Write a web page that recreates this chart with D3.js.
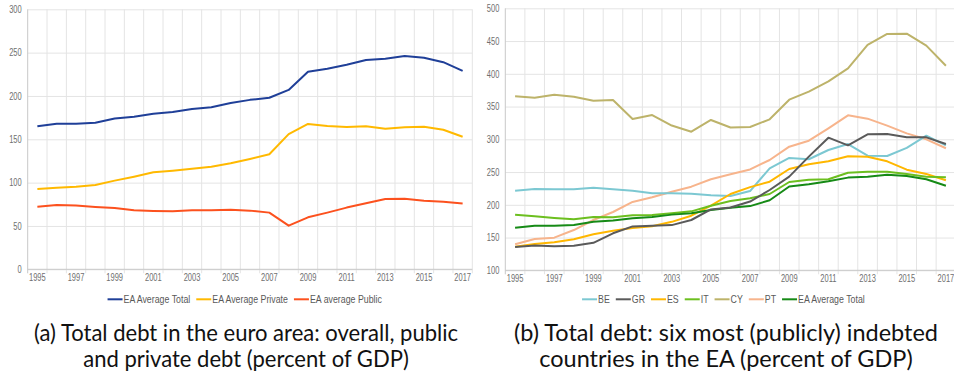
<!DOCTYPE html>
<html>
<head>
<meta charset="utf-8">
<script src="https://cdn.jsdelivr.net/npm/d3@7"></script>
<style>
  html, body { margin: 0; padding: 0; background: #fff; }
  svg { display: block; }
  .tick text { font-family: "Liberation Sans", Arial, sans-serif; font-size: 10px; fill: #6f6f6f; }
  .legend text { font-family: "Liberation Sans", Arial, sans-serif; font-size: 11px; fill: #595959; }
  .caption { font-family: Lato, "DejaVu Sans", sans-serif; font-size: 23px; fill: #111; }
</style>
</head>
<body>
<svg id="chart" width="954" height="372"></svg>
<script>
// Years on the category axis
const years = d3.range(1995, 2018);
const yearLabels = years.filter((y, i) => i % 2 === 0);

// Panel (a): euro-area averages, percent of GDP
const eaTotal   = [165, 168, 168, 169, 174, 176, 179.5, 181.5, 185, 187, 192, 195.5, 198, 207, 228, 231.5, 236, 241.5, 243, 246, 244, 239, 229];
const eaPrivate = [92.7, 94.2, 95.3, 97.3, 102.3, 106.9, 111.9, 113.8, 116.1, 118.4, 122.3, 127.3, 132.7, 156, 167.7, 165.3, 164.2, 165, 162.3, 164, 164.5, 161, 153];
const eaPublic  = [72.3, 74.2, 73.5, 72, 70.8, 68, 67.3, 67, 68, 68, 68.8, 67.7, 65.4, 50.4, 60, 65.4, 71.2, 76.2, 81.2, 81.5, 79.2, 78, 75.8];
const ticksA = [0, 50, 100, 150, 200, 250, 300];

// Panel (b): the six most indebted countries, percent of GDP
const BE = [221.5, 224, 223.6, 223.6, 226, 223.6, 221.5, 217.5, 217.7, 217, 214.5, 213.4, 221, 255.7, 271.5, 269.5, 283.7, 292.8, 275, 274.5, 287, 305.5, 290.8];
const GR = [135.6, 138, 136.6, 137.6, 142, 156.5, 167, 168, 169, 176.8, 193, 196, 205, 222.6, 243, 273.5, 302.5, 290.8, 307.6, 308, 303, 303, 292.8];
const ES = [136, 140, 142.7, 147.3, 155, 160.5, 164.6, 167.2, 174, 183.4, 198.6, 216.5, 227, 235.3, 254.7, 261.8, 266.4, 274, 273.5, 266.4, 253.6, 247, 237.4];
const IT = [184.9, 182.4, 179.8, 177.8, 181.4, 180.9, 184, 184.4, 187, 190, 198.6, 205.8, 209.9, 216.5, 234.8, 238.3, 239, 249, 250.5, 250.5, 247, 243, 242];
const CY = [365.6, 363.5, 368, 365, 359, 360, 331, 337, 321, 311.6, 329.5, 318, 318.8, 330.5, 360.5, 372.7, 388.5, 408.4, 444, 460.8, 461.3, 443, 412.4];
const PT = [139.7, 147.8, 149.8, 161.5, 176.8, 189, 204.3, 211.4, 220, 227.7, 239, 246.5, 254, 268.4, 288.7, 297.9, 316.8, 336.6, 331.5, 320.8, 309, 300, 286.3];
const ticksB = [100, 150, 200, 250, 300, 350, 400, 450, 500];

const svg = d3.select("#chart");

// narrow text horizontally by factor k; returns the last resulting width
function condense(sel, k) {
  let out = 0;
  sel.each(function () {
    const w = this.getComputedTextLength() * k;
    d3.select(this).attr("textLength", w).attr("lengthAdjust", "spacingAndGlyphs");
    out = w;
  });
  return out;
}

function panel(opts) {
  const g = svg.append("g");
  const x = d3.scaleBand().domain(years).range([opts.x0, opts.x1]).padding(0);
  const y = d3.scaleLinear().domain(opts.domain).range([opts.yBottom, opts.yTop]);
  const bw = x.bandwidth();

  // horizontal gridlines
  g.append("g")
    .attr("transform", `translate(${opts.x0},0)`)
    .call(d3.axisLeft(y).tickValues(opts.ticks).tickSize(-(opts.x1 - opts.x0)).tickFormat(""))
    .call(s => s.select(".domain").remove())
    .call(s => s.selectAll(".tick line").attr("stroke", "#e4e4e4").attr("stroke-width", 1));

  // vertical gridlines on category boundaries, with small ticks below the axis
  const bounds = d3.range(years.length + 1).map(i => opts.x0 + i * bw);
  g.append("g").selectAll("line").data(bounds).join("line")
    .attr("x1", d => d).attr("x2", d => d)
    .attr("y1", opts.yTop).attr("y2", opts.yBottom + 4)
    .attr("stroke", (d, i) => i === 0 ? "#c8c8c8" : "#e4e4e4")
    .attr("stroke-width", 1);

  // y tick labels
  g.append("g")
    .attr("transform", `translate(${opts.x0 - 6},0)`)
    .call(d3.axisLeft(y).tickValues(opts.ticks).tickSize(0).tickPadding(0))
    .call(s => s.select(".domain").remove())
    .call(s => condense(s.selectAll("text"), 0.75));

  // x axis line + labels
  g.append("line")
    .attr("x1", opts.x0).attr("x2", opts.x1)
    .attr("y1", opts.yBottom).attr("y2", opts.yBottom)
    .attr("stroke", "#c8c8c8");
  g.append("g")
    .attr("transform", `translate(0,${opts.yBottom})`)
    .call(d3.axisBottom(x).tickValues(yearLabels).tickSize(0).tickPadding(5))
    .call(s => s.select(".domain").remove())
    .call(s => condense(s.selectAll("text"), 0.75));

  // series lines
  const line = d3.line().x((d, i) => x(years[i]) + bw / 2).y(d => y(d));
  opts.series.forEach(s => {
    g.append("path")
      .datum(s.values)
      .attr("fill", "none")
      .attr("stroke", s.color)
      .attr("stroke-width", 2)
      .attr("stroke-linejoin", "round")
      .attr("d", line);
  });

  // legend
  const lg = g.append("g").attr("class", "legend");
  let cx = 0;
  opts.series.slice().sort((a, b) => a.order - b.order).forEach(s => {
    const item = lg.append("g").attr("transform", `translate(${cx},0)`);
    item.append("line").attr("x1", 0).attr("x2", 15).attr("y1", 0).attr("y2", 0)
      .attr("stroke", s.color).attr("stroke-width", 2);
    const t = item.append("text").attr("x", 16).attr("y", 4).text(s.name);
    const w = condense(t, 0.8);
    cx += 16 + w + 6;
  });
  const total = cx - 6;
  lg.attr("transform", `translate(${opts.legendCenter - total / 2},${opts.legendY})`);
}

panel({
  x0: 27.7, x1: 472.3, yTop: 9.3, yBottom: 269.3,
  domain: [0, 300], ticks: ticksA,
  legendCenter: 244.7, legendY: 299.3,
  series: [
    { name: "EA Average Total", values: eaTotal, color: "#1f3f98", order: 0 },
    { name: "EA Average Private", values: eaPrivate, color: "#ffb900", order: 1 },
    { name: "EA average Public", values: eaPublic, color: "#fc511e", order: 2 }
  ]
});

panel({
  x0: 505.3, x1: 955.7, yTop: 8.3, yBottom: 270.3,
  domain: [100, 500], ticks: ticksB,
  legendCenter: 723.4, legendY: 299.3,
  series: [
    { name: "CY", values: CY, color: "#bdb36a", order: 4 },
    { name: "PT", values: PT, color: "#f7b48c", order: 5 },
    { name: "BE", values: BE, color: "#7cc8d2", order: 0 },
    { name: "ES", values: ES, color: "#ffb700", order: 2 },
    { name: "IT", values: IT, color: "#6cbf1f", order: 3 },
    { name: "EA Average Total", values: eaTotal, color: "#168a16", order: 6 },
    { name: "GR", values: GR, color: "#5a5a5a", order: 1 }
  ]
});

// captions: both lines of a caption share one horizontal scale, set by its first line
const captions = [
  { x: 246, width: 424, lines: ["(a) Total debt in the euro area: overall, public", "and private debt (percent of GDP)"] },
  { x: 726, width: 424, lines: ["(b) Total debt: six most (publicly) indebted", "countries in the EA (percent of GDP)"] }
];
captions.forEach(c => {
  const texts = c.lines.map((ln, i) =>
    svg.append("text").attr("class", "caption")
      .attr("x", c.x).attr("y", 341 + i * 26)
      .attr("text-anchor", "middle")
      .text(ln));
  const k = c.width / texts[0].node().getComputedTextLength();
  texts.forEach(t => condense(t, k));
});
</script>
</body>
</html>
